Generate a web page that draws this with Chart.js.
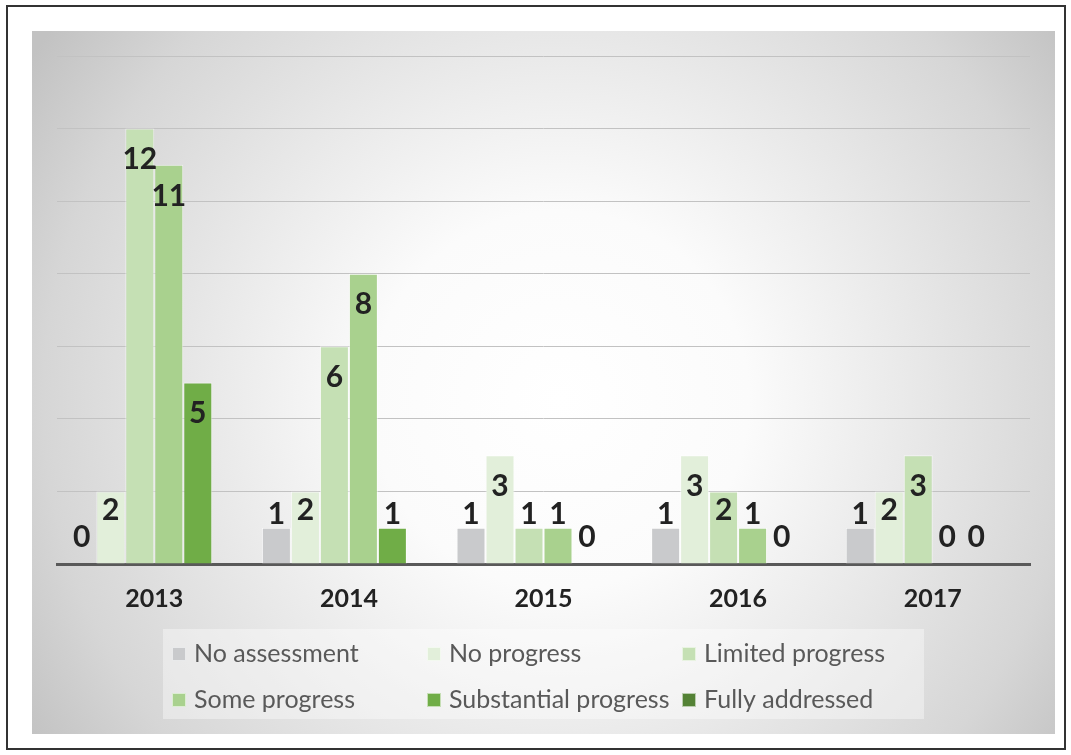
<!DOCTYPE html>
<html>
<head>
<meta charset="utf-8">
<script src="https://cdn.jsdelivr.net/npm/chart.js@4/dist/chart.umd.min.js"></script>
<style>
html,body{margin:0;padding:0;background:#fff;}
#wrap{width:1071px;height:755px;position:relative;}
canvas{display:block;}
</style>
</head>
<body>
<div id="wrap"><canvas id="c" width="1071" height="755"></canvas></div>
<script>
// ---- data ----
const categories = ['2013', '2014', '2015', '2016', '2017'];
const seriesNames = ['No assessment', 'No progress', 'Limited progress', 'Some progress', 'Substantial progress', 'Fully addressed'];
const noAssessment = [0, 1, 1, 1, 1];
const noProgress = [2, 2, 3, 3, 2];
const limitedProgress = [12, 6, 1, 2, 3];
const someProgress = [11, 8, 1, 1, 0];
const substantialProgress = [5, 1, 0, 0, 0];
const fullyAddressed = [null, null, null, null, null];
const yTicks = [0, 2, 4, 6, 8, 10, 12, 14];

const seriesValues = [noAssessment, noProgress, limitedProgress, someProgress, substantialProgress, fullyAddressed];
const seriesColors = ['#c9cacc', '#e2efda', '#c5e0b4', '#a9d18e', '#70ad47', '#548235'];

const datasets = seriesNames.map((name, i) => ({
  label: name,
  data: seriesValues[i],
  backgroundColor: seriesColors[i],
  borderColor: 'rgba(255,255,255,0.6)',
  borderWidth: 1,
  barPercentage: 1.0,
  categoryPercentage: 0.894
}));

// background: frame + radial gradient panel
const backgroundPlugin = {
  id: 'bgPanel',
  beforeDraw(chart) {
    const ctx = chart.ctx;
    ctx.save();
    ctx.fillStyle = '#ffffff';
    ctx.fillRect(0, 0, chart.width, chart.height);
    ctx.strokeStyle = '#333333';
    ctx.lineWidth = 2;
    ctx.strokeRect(7, 6, 1058, 743);
    const x0 = 32, y0 = 31, w = 1023, h = 703;
    const cx = 560, cy = 400;
    const g = ctx.createRadialGradient(cx, cy, 0, cx, cy, 630);
    g.addColorStop(0, '#ffffff');
    g.addColorStop(0.3, '#fbfbfb');
    g.addColorStop(0.57, '#e8e8e8');
    g.addColorStop(0.82, '#d6d6d6');
    g.addColorStop(1, '#c2c2c2');
    ctx.fillStyle = g;
    ctx.fillRect(x0, y0, w, h);
    ctx.restore();
  }
};

// value labels (Excel-like inside-end placement)
const offsetTable = [[0, -27], [36, -13], [72.5, 19], [108, 31]];
function labelOffset(h) {
  if (h <= offsetTable[0][0]) return offsetTable[0][1];
  for (let i = 1; i < offsetTable.length; i++) {
    const [h1, o1] = offsetTable[i];
    const [h0, o0] = offsetTable[i - 1];
    if (h <= h1) return o0 + (o1 - o0) * (h - h0) / (h1 - h0);
  }
  return offsetTable[offsetTable.length - 1][1];
}
const valueLabelPlugin = {
  id: 'valueLabels',
  afterDatasetsDraw(chart) {
    const ctx = chart.ctx;
    ctx.save();
    ctx.font = 'bold 30px Lato';
    ctx.fillStyle = '#222222';
    ctx.textAlign = 'center';
    ctx.textBaseline = 'middle';
    chart.data.datasets.forEach((ds, di) => {
      const meta = chart.getDatasetMeta(di);
      meta.data.forEach((el, i) => {
        const v = ds.data[i];
        if (v === null || v === undefined) return;
        const h = el.base - el.y;
        ctx.fillText(String(v), el.x, el.y + labelOffset(h));
      });
    });
    ctx.restore();
  }
};

// custom legend (3 columns x 2 rows)
const legendPlugin = {
  id: 'gridLegend',
  afterDraw(chart) {
    const ctx = chart.ctx;
    ctx.save();
    ctx.fillStyle = 'rgba(255,255,255,0.38)';
    ctx.fillRect(163, 629, 761, 90);
    const colX = [172, 427, 682];
    const rowY = [647, 693];
    ctx.font = '25px Lato';
    ctx.textBaseline = 'alphabetic';
    ctx.textAlign = 'left';
    chart.data.datasets.forEach((ds, i) => {
      const c = i % 3, r = Math.floor(i / 3);
      const x = colX[c], y = rowY[r];
      ctx.fillStyle = ds.backgroundColor;
      ctx.fillRect(x, y, 14, 14);
      ctx.strokeStyle = 'rgba(255,255,255,0.6)';
      ctx.lineWidth = 1;
      ctx.strokeRect(x + 0.5, y + 0.5, 13, 13);
      ctx.fillStyle = '#595959';
      ctx.fillText(ds.label, x + 22, y + 15);
    });
    ctx.restore();
  }
};

new Chart(document.getElementById('c'), {
  type: 'bar',
  data: { labels: categories, datasets: datasets },
  options: {
    responsive: false,
    animation: false,
    layout: { padding: { left: 57, right: 41, top: 56, bottom: 0 } },
    plugins: {
      legend: { display: false },
      tooltip: { enabled: false },
      title: { display: false }
    },
    scales: {
      x: {
        grid: { display: false, drawTicks: false },
        border: { display: true, color: '#595959', width: 3 },
        ticks: {
          color: '#222222',
          font: { family: 'Lato', weight: 'bold', size: 25 },
          padding: 20,
          maxRotation: 0
        },
        afterFit(scale) { scale.height = 191; }
      },
      y: {
        min: yTicks[0],
        max: yTicks[yTicks.length - 1],
        afterBuildTicks(scale) { scale.ticks = yTicks.map(v => ({ value: v })); },
        ticks: { display: false },
        grid: { color: '#c2c2c2', lineWidth: 1, drawTicks: false },
        border: { display: false },
        afterFit(scale) { scale.width = 0; }
      }
    }
  },
  plugins: [backgroundPlugin, valueLabelPlugin, legendPlugin]
});
</script>
</body>
</html>
